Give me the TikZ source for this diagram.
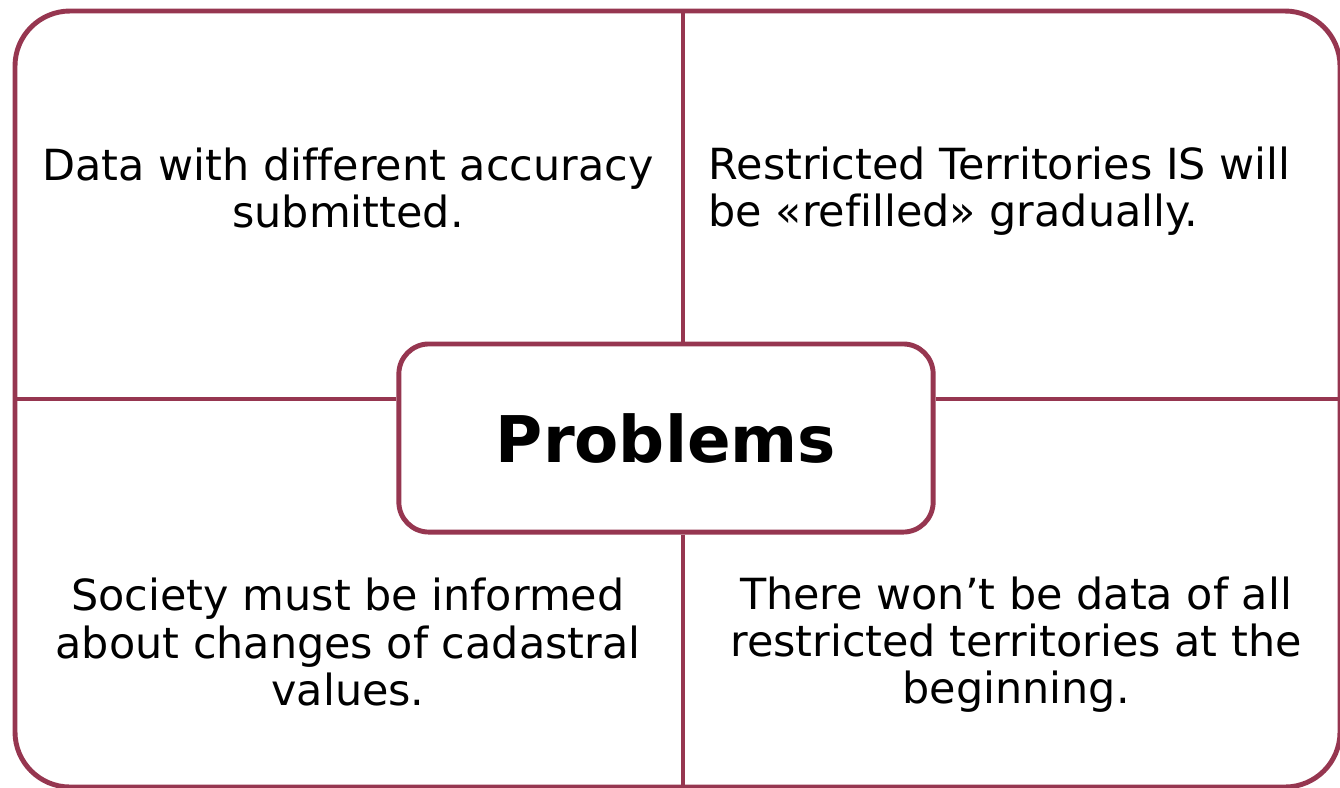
\documentclass[tikz,border=0pt]{standalone}
\usepackage{fontspec}
\setmainfont[Ligatures=NoCommon]{DejaVu Sans}
\definecolor{frameRed}{RGB}{150,54,80}
\tikzset{
  frameline/.style={draw=frameRed,line width=1.4pt},
  quadtext/.style={font=\fontsize{12.2}{13.4}\selectfont,inner sep=0pt},
  probbox/.style={frameline,fill=white,rounded corners=0.3cm,minimum width=5.34cm,minimum height=1.88cm,
    font=\fontsize{18.3}{22}\selectfont\bfseries}
}
\begin{document}
\begin{tikzpicture}[x=0.01cm,y=-0.01cm]
  \useasboundingbox (0,0) rectangle (1340,787);
  % outer frame
  \draw[frameline,rounded corners=0.55cm] (15,11) rectangle (1340,787);
  \coordinate (top) at (683,11);
  \coordinate (bottom) at (683,787);
  \coordinate (left) at (15,399);
  \coordinate (right) at (1340,399);
  \node[probbox] (prob) at (666,438) {Problems};
  % dividers
  \draw[frameline] (top) -- (top |- prob.north);
  \draw[frameline] (bottom |- prob.south) -- (bottom);
  \draw[frameline] (left) -- (left -| prob.west);
  \draw[frameline] (right -| prob.east) -- (right);
  % texts
  \node[quadtext,align=center] (tl) at (348,188) {Data with different accuracy\\submitted.};
  \node[quadtext,align=left,anchor=west] (tr) at (708,191) {Restricted Territories IS will\\be «refilled» gradually.};
  \node[quadtext,align=center] (bl) at (348,642) {Society must be informed\\about changes of cadastral\\values.};
  \node[quadtext,align=center] (br) at (1016,645) {There won’t be data of all\\restricted territories at the\\beginning.};
\end{tikzpicture}
\end{document}
